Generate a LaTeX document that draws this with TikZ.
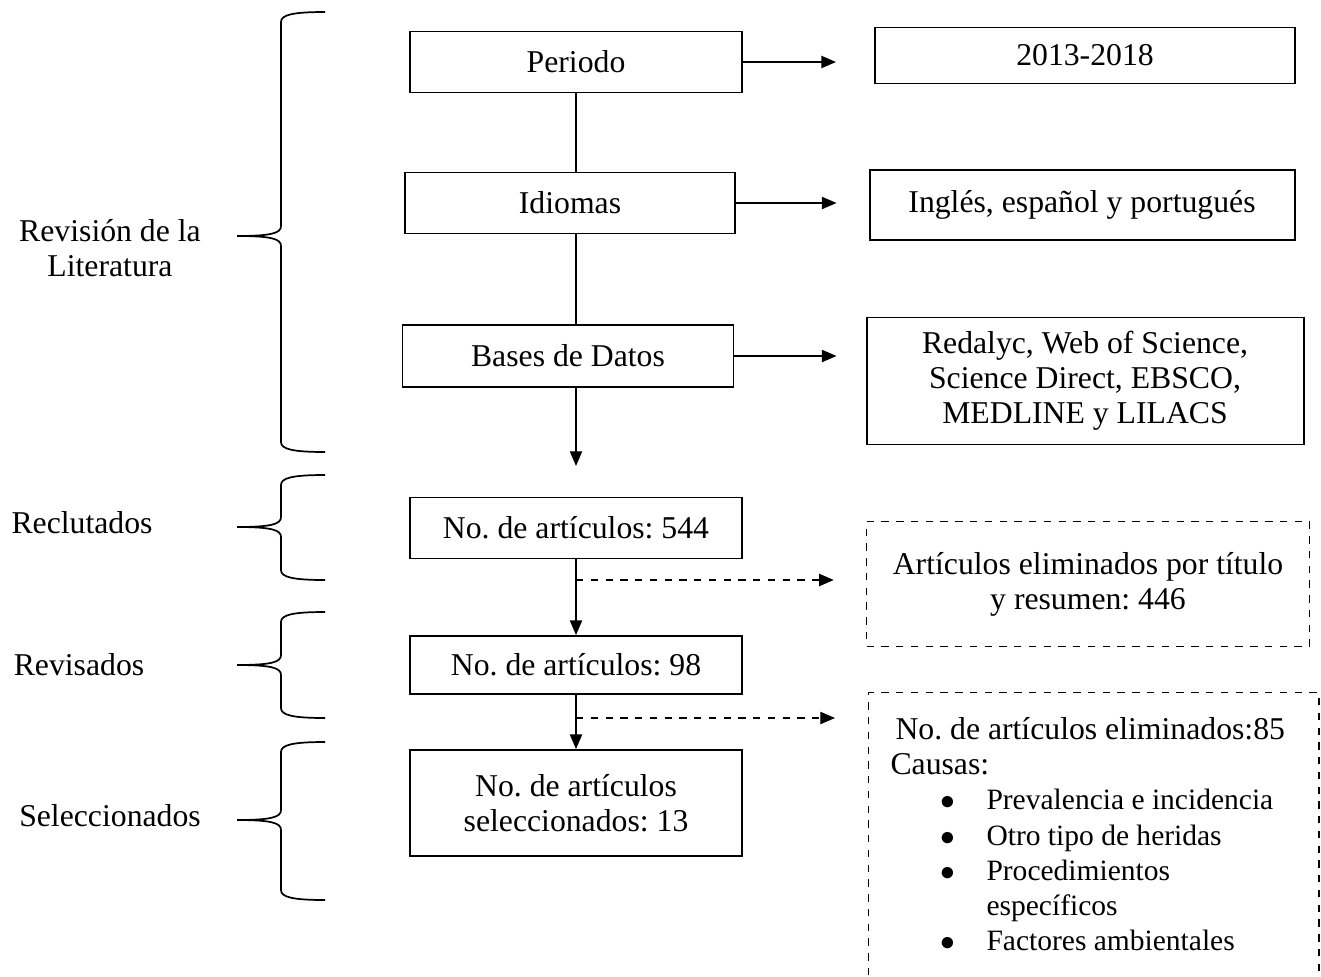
\documentclass[tikz,border=0pt]{standalone}
\usepackage{fontspec}
\setmainfont{Liberation Serif}
\usetikzlibrary{arrows.meta}
\frenchspacing
\newlength\px
\setlength\px{0.4066pt}
% left curly bracket: top, tip, bottom
\newcommand{\sidebrace}[3]{%
\draw[line width=0.7pt] (325,#1) .. controls (292,#1) and (281,#1+3) .. (281,#1+10) -- (281,#2-10) .. controls (281,#2-3) and (272,#2) .. (237,#2);
\draw[line width=0.7pt] (237,#2) .. controls (272,#2) and (281,#2+3) .. (281,#2+10) -- (281,#3-10) .. controls (281,#3-3) and (292,#3) .. (325,#3);}
\newcommand{\itm}{\hspace*{50\px}\makebox[46\px][l]{$\bullet$}\fontsize{12pt}{14.3pt}\selectfont}
\tikzset{
box/.style={draw, line width=0.8pt, minimum width=332\px, minimum height=62\px, align=center},
dbox/.style={draw, dashed, line width=0.6pt, align=center},
arr/.style={-{Triangle[length=6pt,width=5pt]}, line width=0.6pt},
darr/.style={arr, dashed}
}
\begin{document}
\begin{tikzpicture}[x=0.4066pt, y=-0.4066pt, font=\fontsize{12.9pt}{14.3pt}\selectfont]
\useasboundingbox (0,0) rectangle (1321,976);
\node[box, minimum height=61\px] (periodo) at (576,62) {Periodo};
\node[box, minimum width=330\px, minimum height=61\px] (idiomas) at (570,203) {Idiomas};
\node[box, minimum width=331\px] (bases) at (568,356) {Bases de Datos};
\node[box, minimum height=61\px] (recl) at (576,528) {No. de artículos: 544};
\node[box, minimum height=58\px] (revi) at (576,665) {No. de artículos: 98};
\node[box, minimum height=106\px] (sele) at (576,803) {No. de artículos\\seleccionados: 13};
\node[box, minimum width=420\px, minimum height=56\px] (rango) at (1085,55.5) {2013-2018};
\node[box, minimum width=425\px, minimum height=70\px] (lenguas) at (1082,205) {Inglés, español y portugués};
\node[box, minimum width=437\px, minimum height=127\px] (fuentes) at (1085,381) {Redalyc, Web of Science,\\Science Direct, EBSCO,\\MEDLINE y LILACS};
\node[dbox, minimum width=443\px, minimum height=125\px] (excl1) at (1088,584) {Artículos eliminados por título\\y resumen: 446};
\node[dbox, minimum width=450\px, minimum height=330\px, anchor=north west] (excl2) at (868,692) {};
\node[anchor=north west, align=left, inner sep=0pt] (causas) at (890,717) {\hspace*{5\px}No. de artículos eliminados:85\\
Causas:\\
\itm Prevalencia e incidencia\\
\itm Otro tipo de heridas\\
\itm Procedimientos\\
\hspace*{96\px}\fontsize{12pt}{14.3pt}\selectfont específicos\\
\itm Factores ambientales};
\node[align=center] (lit) at (110,248) {Revisión de la\\Literatura};
\node (reclu) at (82,523) {Reclutados};
\node (revis) at (79,665) {Revisados};
\node (selec) at (110,816) {Seleccionados};
\sidebrace{12}{236}{452}
\sidebrace{475}{527}{580}
\sidebrace{612}{665}{718}
\sidebrace{742}{820}{900}
% main column
\coordinate (libre) at (576,466);
\coordinate (d1) at (576,580);
\coordinate (d2) at (576,718);
\draw[line width=0.6pt] (periodo.south) -- (periodo.south |- idiomas.north);
\draw[line width=0.6pt] (periodo.south |- idiomas.south) -- (periodo.south |- bases.north);
\draw[arr] (periodo.south |- bases.south) -- (libre);
\draw[arr] (recl) -- (revi);
\draw[arr] (revi) -- (sele);
% side arrows
\draw[arr, shorten >=38\px] (periodo.east) -- (periodo.east -| rango.west);
\draw[arr, shorten >=32\px] (idiomas.east) -- (idiomas.east -| lenguas.west);
\draw[arr, shorten >=29\px] (bases.east) -- (bases.east -| fuentes.west);
\draw[darr, shorten >=32\px] (d1) -- (d1 -| excl1.west);
\draw[darr, shorten >=33\px] (d2) -- (d2 -| excl2.west);
\end{tikzpicture}
\end{document}
